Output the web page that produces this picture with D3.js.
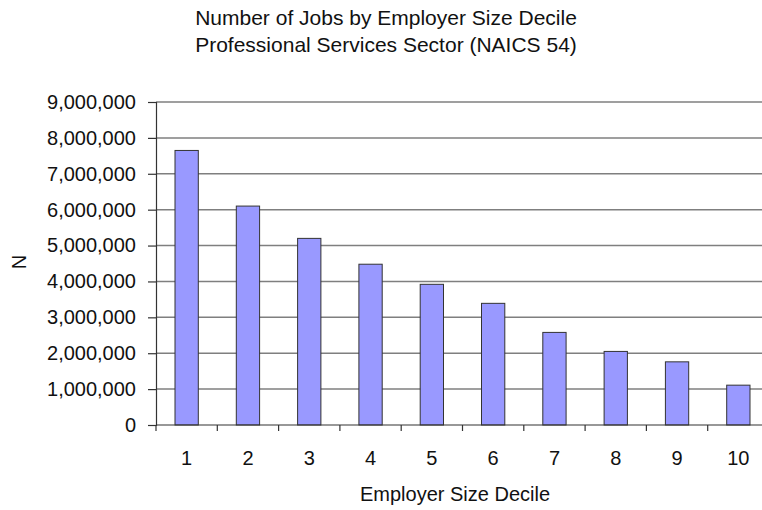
<!DOCTYPE html>
<html>
<head>
<meta charset="utf-8">
<script src="https://cdn.jsdelivr.net/npm/d3@7"></script>
<style>
  body { margin: 0; background: #fff; }
  svg { display: block; font-family: "Liberation Sans", Arial, sans-serif; }
</style>
</head>
<body>
<svg id="chart" width="762" height="510"></svg>
<script>
// chart values
var deciles = ["1", "2", "3", "4", "5", "6", "7", "8", "9", "10"];
var jobs = [7650000, 6100000, 5200000, 4480000, 3920000, 3390000, 2580000, 2050000, 1760000, 1110000];
var yTicks = [0, 1000000, 2000000, 3000000, 4000000, 5000000, 6000000, 7000000, 8000000, 9000000];
var titleLines = ["Number of Jobs by Employer Size Decile", "Professional Services Sector (NAICS 54)"];

var margin = { top: 102, right: -7, bottom: 85, left: 156 };
var width = 762 - margin.left - margin.right;
var height = 510 - margin.top - margin.bottom;

var svg = d3.select("#chart");

var x = d3.scaleBand()
	.domain(deciles)
	.range([0, width])
	.paddingInner(0.62)
	.paddingOuter(0.31);

var y = d3.scaleLinear()
	.domain([0, 9000000])
	.range([height, 0]);

var g = svg.append("g")
	.attr("transform", "translate(" + margin.left + "," + margin.top + ")");

// horizontal grid
g.selectAll(".grid")
	.data(yTicks.slice(1))
	.enter()
	.append("line")
	.attr("class", "grid")
	.attr("x1", 0)
	.attr("x2", width)
	.attr("y1", function (d) { return y(d); })
	.attr("y2", function (d) { return y(d); })
	.attr("stroke", "#7f7f7f")
	.attr("stroke-width", 1.5);

// bars
g.selectAll(".bar")
	.data(jobs)
	.enter()
	.append("rect")
	.attr("class", "bar")
	.attr("x", function (d, i) { return x(deciles[i]); })
	.attr("y", function (d) { return y(d); })
	.attr("width", x.bandwidth())
	.attr("height", function (d) { return height - y(d); })
	.attr("fill", "#9999ff")
	.attr("stroke", "#333333")
	.attr("stroke-width", 1);

// y axis
var yAxis = g.append("g")
	.call(d3.axisLeft(y)
		.tickValues(yTicks)
		.tickSize(8)
		.tickPadding(12)
		.tickFormat(d3.format(",")));

yAxis.select(".domain").attr("stroke", "#333").attr("stroke-width", 1.2);
yAxis.selectAll(".tick line").attr("stroke", "#333").attr("stroke-width", 1.2);
yAxis.selectAll("text")
	.attr("font-size", 20)
	.attr("font-family", "Liberation Sans, Arial, sans-serif")
	.attr("fill", "#111");

// x axis: ticks sit at the band boundaries
var step = x.step();
var boundaries = d3.range(deciles.length + 1).map(function (i) { return i * step; });

g.append("line")
	.attr("x1", 0)
	.attr("x2", width)
	.attr("y1", height)
	.attr("y2", height)
	.attr("stroke", "#333")
	.attr("stroke-width", 1.2);

g.selectAll(".xtick")
	.data(boundaries)
	.enter()
	.append("line")
	.attr("class", "xtick")
	.attr("x1", function (d) { return d; })
	.attr("x2", function (d) { return d; })
	.attr("y1", height)
	.attr("y2", height + 6)
	.attr("stroke", "#333")
	.attr("stroke-width", 1.2);

g.selectAll(".xlabel")
	.data(deciles)
	.enter()
	.append("text")
	.attr("class", "xlabel")
	.attr("x", function (d) { return x(d) + x.bandwidth() / 2; })
	.attr("y", height + 40)
	.attr("text-anchor", "middle")
	.attr("font-size", 20)
	.attr("fill", "#111")
	.text(function (d) { return d; });

// titles
svg.selectAll(".title")
	.data(titleLines)
	.enter()
	.append("text")
	.attr("class", "title")
	.attr("x", 386)
	.attr("y", function (d, i) { return 25 + i * 27; })
	.attr("text-anchor", "middle")
	.attr("font-size", 21)
	.attr("fill", "#111")
	.text(function (d) { return d; });

svg.append("text")
	.attr("x", 455)
	.attr("y", 501)
	.attr("text-anchor", "middle")
	.attr("font-size", 20)
	.attr("fill", "#111")
	.text("Employer Size Decile");

svg.append("text")
	.attr("transform", "translate(26,262) rotate(-90)")
	.attr("text-anchor", "middle")
	.attr("font-size", 20)
	.attr("fill", "#111")
	.text("N");
</script>
</body>
</html>
